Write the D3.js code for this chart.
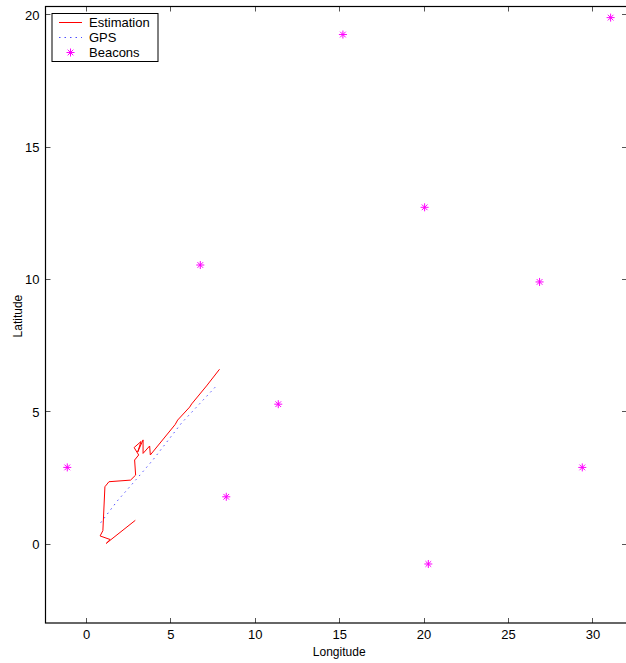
<!DOCTYPE html>
<html>
<head>
<meta charset="utf-8">
<script src="https://cdn.jsdelivr.net/npm/d3@7"></script>
<style>
  html, body { margin: 0; padding: 0; background: #fff; }
  svg text { font-family: "Liberation Sans", Arial, Helvetica, sans-serif; fill: #000; }
</style>
</head>
<body>
<svg id="chart" width="626" height="663"></svg>
<script>
// Estimated trajectory (longitude, latitude)
const estLon = [2.92, 1.20, 1.43, 0.835, 1.00, 1.12, 1.36, 2.64, 2.94, 2.88, 3.12, 2.85, 3.26, 3.06, 3.38, 3.38, 3.77, 3.81, 5.28, 5.43, 6.14, 6.26, 7.14, 7.91];
const estLat = [0.88, 0.01, 0.155, 0.29, 0.49, 2.15, 2.34, 2.40, 2.59, 3.16, 3.35, 3.63, 3.86, 3.46, 3.92, 3.41, 3.69, 3.35, 4.50, 4.67, 5.16, 5.28, 5.96, 6.59];

// GPS track
const gpsLon = [0.87, 1.85, 2.98, 3.96, 5.65, 7.78];
const gpsLat = [0.79, 1.61, 2.43, 3.16, 4.55, 6.00];

// Beacon positions
const beaconLon = [-1.11, 6.77, 8.31, 11.39, 15.22, 20.06, 20.28, 26.87, 29.40, 31.08];
const beaconLat = [2.88, 10.53, 1.77, 5.27, 19.24, 12.71, -0.77, 9.89, 2.88, 19.88];

const xTicks = [0, 5, 10, 15, 20, 25, 30];
const yTicks = [0, 5, 10, 15, 20];
const legendLabels = ["Estimation", "GPS", "Beacons"];

const svg = d3.select("#chart");
const plotLeft = 45.5, plotRight = 627, plotTop = 6.5, plotBottom = 623;

const x = d3.scaleLinear().domain([-2.4, 32.05]).range([plotLeft, plotRight]);
const y = d3.scaleLinear().domain([-3, 20.3]).range([plotBottom, plotTop]);

const tickLen = 5;
const tickColor = "#555";

// Axes: bottom and left carry labels, top and right mirror the ticks
const gAxes = svg.append("g");

const xBottom = d3.axisBottom(x).tickValues(xTicks).tickSize(0).tickPadding(0).tickFormat(d3.format("d"));
const gx = gAxes.append("g").attr("transform", `translate(0,${plotBottom})`).call(xBottom);
gx.select(".domain").remove();
gx.selectAll("text").attr("font-size", 13).attr("dy", null).attr("y", 16);

const yLeft = d3.axisLeft(y).tickValues(yTicks).tickSize(0).tickFormat(d3.format("d"));
const gy = gAxes.append("g").attr("transform", `translate(${plotLeft},0)`).call(yLeft);
gy.select(".domain").remove();
gy.selectAll("text").attr("font-size", 13).attr("x", -6).attr("dy", "0.36em");

// inward tick marks on all four sides
const ticks = gAxes.append("g").attr("stroke", tickColor).attr("stroke-width", 1);
xTicks.forEach(v => {
  const px = Math.round(x(v)) + 0.5;
  ticks.append("line").attr("x1", px).attr("x2", px).attr("y1", plotBottom).attr("y2", plotBottom - tickLen);
  ticks.append("line").attr("x1", px).attr("x2", px).attr("y1", plotTop).attr("y2", plotTop + tickLen);
});
yTicks.forEach(v => {
  const py = Math.round(y(v)) + 0.5;
  ticks.append("line").attr("x1", plotLeft).attr("x2", plotLeft + tickLen).attr("y1", py).attr("y2", py);
  ticks.append("line").attr("x1", plotRight).attr("x2", plotRight - tickLen).attr("y1", py).attr("y2", py);
});

// axis frame
gAxes.append("rect")
  .attr("x", plotLeft).attr("y", plotTop)
  .attr("width", plotRight - plotLeft).attr("height", plotBottom - plotTop)
  .attr("fill", "none").attr("stroke", "#000").attr("stroke-width", 1.2);

// axis titles
svg.append("text").attr("x", x(15)).attr("y", 656)
  .attr("text-anchor", "middle").attr("font-size", 12).text("Longitude");
svg.append("text").attr("transform", `translate(22,${y(8.6)}) rotate(-90)`)
  .attr("text-anchor", "middle").attr("font-size", 12).text("Latitude");

const line = d3.line().x(d => x(d[0])).y(d => y(d[1]));

// GPS track (dotted)
svg.append("path")
  .datum(d3.zip(gpsLon, gpsLat))
  .attr("d", line)
  .attr("fill", "none").attr("stroke", "#4d4dff").attr("stroke-width", 1)
  .attr("stroke-dasharray", "1.5,4");

// Estimated trajectory
svg.append("path")
  .datum(d3.zip(estLon, estLat))
  .attr("d", line)
  .attr("fill", "none").attr("stroke", "#ff0000").attr("stroke-width", 1)
  .attr("stroke-linejoin", "miter");

// asterisk marker
function asterisk(g, cx, cy, r) {
  const d = r * Math.SQRT1_2;
  const p = `M${cx - r},${cy}L${cx + r},${cy}M${cx},${cy - r}L${cx},${cy + r}` +
            `M${cx - d},${cy - d}L${cx + d},${cy + d}M${cx - d},${cy + d}L${cx + d},${cy - d}`;
  g.append("path").attr("d", p).attr("stroke", "#ff00ff").attr("stroke-width", 1).attr("fill", "none");
}

const gBeacons = svg.append("g");
d3.zip(beaconLon, beaconLat).forEach(([lo, la]) => asterisk(gBeacons, x(lo), y(la), 4));

// Legend
const lg = svg.append("g");
lg.append("rect").attr("x", 52).attr("y", 13.5).attr("width", 106).attr("height", 48)
  .attr("fill", "#fff").attr("stroke", "#000").attr("stroke-width", 1);
const rowY = [22.5, 37.5, 52.5];
lg.append("line").attr("x1", 59).attr("x2", 82).attr("y1", rowY[0]).attr("y2", rowY[0])
  .attr("stroke", "#ff0000").attr("stroke-width", 1);
lg.append("line").attr("x1", 59).attr("x2", 82).attr("y1", rowY[1]).attr("y2", rowY[1])
  .attr("stroke", "#4d4dff").attr("stroke-width", 1).attr("stroke-dasharray", "1.5,4");
asterisk(lg, 70.5, rowY[2], 4);
legendLabels.forEach((t, i) => {
  lg.append("text").attr("x", 89).attr("y", rowY[i]).attr("dy", "0.36em")
    .attr("font-size", 13).text(t);
});
</script>
</body>
</html>
